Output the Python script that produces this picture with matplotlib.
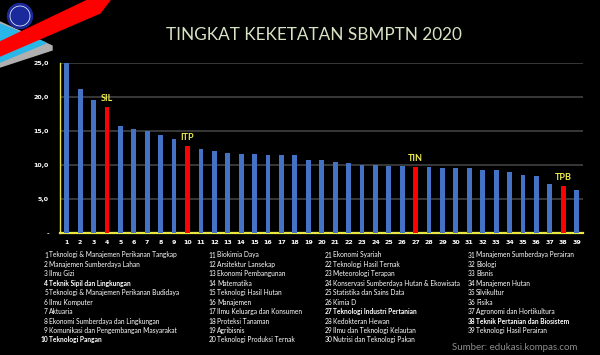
import matplotlib
matplotlib.use("Agg")
import matplotlib.pyplot as plt
from matplotlib.patches import Polygon, Circle

# ---- data ----
ranks = list(range(1, 40))
values = [25.0, 21.2, 19.5, 18.5, 15.7, 15.3, 15.0, 14.4, 13.8, 12.8,
          12.4, 12.0, 11.7, 11.6, 11.6, 11.5, 11.4, 11.4, 10.8, 10.8,
          10.4, 10.3, 10.0, 9.95, 9.9, 9.85, 9.75, 9.7, 9.55, 9.5,
          9.5, 9.3, 9.2, 8.9, 8.5, 8.4, 7.2, 6.9, 6.3]
names = [
    "Teknologi & Manajemen Perikanan Tangkap", "Manajemen Sumberdaya Lahan", "Ilmu Gizi",
    "Teknik Sipil dan Lingkungan", "Teknologi & Manajemen Perikanan Budidaya", "Ilmu Komputer",
    "Aktuaria", "Ekonomi Sumberdaya dan Lingkungan", "Komunikasi dan Pengembangan Masyarakat",
    "Teknologi Pangan",
    "Biokimia Daya", "Arsitektur Lansekap", "Ekonomi Pembangunan", "Matematika",
    "Teknologi Hasil Hutan", "Manajemen", "Ilmu Keluarga dan Konsumen", "Proteksi Tanaman",
    "Agribisnis", "Teknologi Produksi Ternak",
    "Ekonomi Syariah", "Teknologi Hasil Ternak", "Meteorologi Terapan",
    "Konservasi Sumberdaya Hutan & Ekowisata", "Statistika dan Sains Data", "Kimia D",
    "Teknologi Industri Pertanian", "Kedokteran Hewan", "Ilmu dan Teknologi Kelautan",
    "Nutrisi dan Teknologi Pakan",
    "Manajemen Sumberdaya Perairan", "Biologi", "Bisnis", "Manajemen Hutan", "Silvikultur",
    "Fisika", "Agronomi dan Hortikultura", "Teknik Pertanian dan Biosistem",
    "Teknologi Hasil Perairan",
]
highlight_ranks = [4, 10, 27, 38]
highlight_labels = ["SIL", "ITP", "TIN", "TPB"]
yticks = [0, 5, 10, 15, 20, 25]
yticklabels = ["-", "5,0", "10,0", "15,0", "20,0", "25,0"]
title = "TINGKAT KEKETATAN SBMPTN 2020"
source = "Sumber: edukasi.kompas.com"

W, H = 600, 355
fig = plt.figure(figsize=(W / 100, H / 100), dpi=100, facecolor="black")

def fx(px):
    return px / W

def fy(py):
    return 1 - py / H

# ---- decorative header shapes (figure coords) ----
deco = fig.add_axes([0, 0, 1, 1], facecolor="none")
deco.set_xlim(0, W)
deco.set_ylim(H, 0)
deco.axis("off")
deco.add_patch(Polygon([(0, 67), (0, 22), (52, 46), (52, 50)], closed=True, color="#b0b0b0"))
deco.add_patch(Polygon([(0, 62), (0, 24), (46, 43)], closed=True, color="#29b6e8"))
deco.add_patch(Polygon([(0, 42), (88, 0), (110, 0), (100, 13), (0, 56)], closed=True, color="#ff0000"))
deco.add_patch(Circle((20, 16), 12.5, color="#1a2a9c"))
deco.add_patch(Circle((20, 16), 10, fill=False, ec="white", lw=0.5))

# ---- main chart ----
ax = fig.add_axes([fx(60), fy(233), fx(583) - fx(60), fy(63) - fy(233)], facecolor="black")
colors = ["#ff0000" if r in highlight_ranks else "#4472c4" for r in ranks]
ax.bar(ranks, values, width=0.36, color=colors, zorder=3)
ax.set_xlim(0.5, 39.47)
ax.set_ylim(0, 25)
ax.set_yticks(yticks)
ax.set_yticklabels(yticklabels)
ax.set_xticks(ranks)
ax.set_xticklabels([str(r) for r in ranks])
ax.tick_params(axis="both", length=0, colors="white", labelsize=4.5, pad=5)
ax.tick_params(axis="y", pad=8)
for lab in ax.get_xticklabels() + ax.get_yticklabels():
    lab.set_fontweight("bold")
ax.grid(axis="y", color="#3c3c3c", lw=1.3, zorder=0)
ax.set_axisbelow(True)
for s in ["top", "right"]:
    ax.spines[s].set_visible(False)
ax.spines["left"].set_color("#e8e840")
ax.spines["bottom"].set_color("#e8e840")
ax.spines["left"].set_linewidth(1.0)
ax.spines["bottom"].set_linewidth(1.6)

for r, lab in zip(highlight_ranks, highlight_labels):
    ax.annotate(lab, (r, values[r - 1]), xytext=(0, 3), textcoords="offset points",
                ha="center", va="bottom", color="#f0f050", fontsize=6.5,
                fontweight="bold", family="Lato")

# ---- title ----
fig.text(fx(314), fy(35), title, ha="center", va="center", color="#d7e4c4",
         fontsize=12.3, family="Lato")

# ---- legend columns ----
col_x = [49, 217, 333, 476]
row0, dy = 255, 9.44
for i, name in enumerate(names):
    col, row = divmod(i, 10)
    x = col_x[col]
    y = row0 + row * dy
    bold = (i + 1) in highlight_ranks
    w = "bold" if bold else "normal"
    fig.text(fx(x - 1), fy(y), str(i + 1), ha="right", va="center", color="white",
             fontsize=4.8, family="Lato", fontweight=w)
    fig.text(fx(x), fy(y), name, ha="left", va="center", color="white",
             fontsize=4.8, family="Lato", fontweight=w)

fig.text(fx(577), fy(347), source, ha="right", va="center", color="#8c8c8c",
         fontsize=7, family="Lato")

fig.savefig("out.png", dpi=100, facecolor="black")
